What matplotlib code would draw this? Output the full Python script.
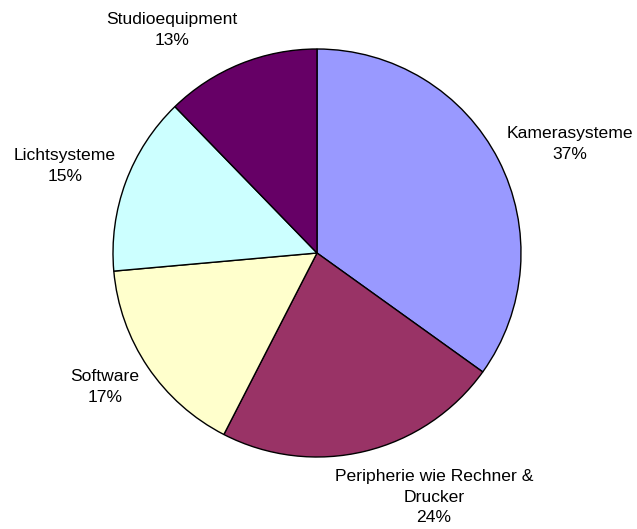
import matplotlib
matplotlib.use("Agg")
import matplotlib.pyplot as plt

categories = ["Kamerasysteme", "Peripherie wie Rechner &\nDrucker", "Software", "Lichtsysteme", "Studioequipment"]
values = [37, 24, 17, 15, 13]
colors = ["#9999FF", "#993366", "#FFFFCC", "#CCFFFF", "#660066"]

plt.rcParams['font.family'] = ['Liberation Sans', 'DejaVu Sans']

W, H = 637, 529
fig = plt.figure(figsize=(W / 100, H / 100), dpi=100)
cx, cy, r = 317, 253, 204
ax = fig.add_axes([(cx - r) / W, (H - cy - r) / H, 2 * r / W, 2 * r / H])

ax.pie(values, colors=colors, startangle=90, counterclock=False, radius=1,
       wedgeprops=dict(edgecolor="black", linewidth=1.0))
ax.set_xlim(-1, 1)
ax.set_ylim(-1, 1)
ax.axis("off")

label_px = [(570, 144), (434, 497), (105, 387), (65, 166), (172, 30)]
for cat, val, (px, py) in zip(categories, values, label_px):
    xd = (px - cx) / r
    yd = (cy - py) / r
    ax.text(xd, yd, f"{cat}\n{val}%", ha="center", va="center", fontsize=12.6,
            linespacing=1.48, clip_on=False)

fig.savefig("out.png", dpi=100)
